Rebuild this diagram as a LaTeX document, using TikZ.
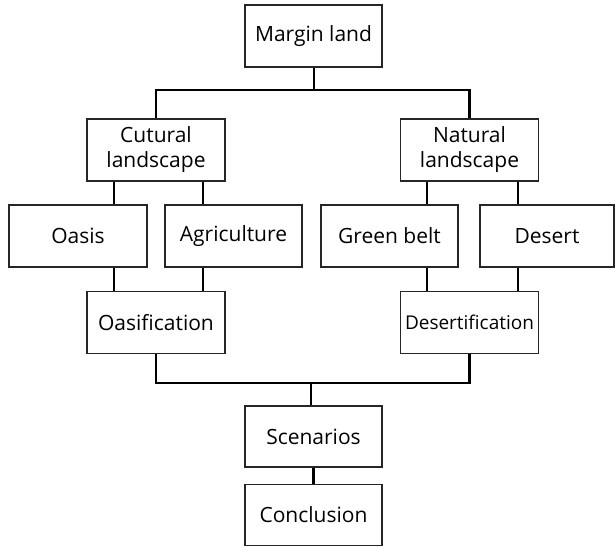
\documentclass[tikz,border=0pt]{standalone}
\usepackage{fontspec}
\setmainfont{Open Sans}
\begin{document}
\begin{tikzpicture}[x=1pt,y=-1pt,
  box/.style={draw=black!85,line width=1.3pt,minimum width=138pt,minimum height=62pt,inner sep=0pt,align=center,font=\fontsize{21}{25}\selectfont,text=black},
  link/.style={draw=black,line width=2.8pt}]
\useasboundingbox (0,0) rectangle (615,546);
\node[box,minimum width=137pt] (margin) at (313.5,36) {Margin land};
\node[box] (cult) at (156,150) {Cutural\\landscape};
\node[box] (nat) at (469.5,150) {Natural\\landscape};
\node[box] (oasis) at (78,236) {Oasis};
\node[box,minimum width=137pt] (agri) at (233.5,236) {Agriculture};
\node[box,minimum width=137pt] (green) at (389.5,236) {Green belt};
\node[box,minimum width=134pt] (desert) at (547,236) {Desert};
\node[box] (oasif) at (156,322.5) {Oasification};
\node[box,font=\fontsize{19}{22}\selectfont] (desertif) at (469.5,322.5) {Desertification};
\node[box,minimum width=137pt,minimum height=61pt] (scen) at (313.5,436.5) {Scenarios};
\node[box,minimum width=137pt,minimum height=61pt] (concl) at (313.5,515) {Conclusion};
\coordinate (j1) at (314,90);
\coordinate (j2) at (311,383);
\coordinate (a1) at (114,0);
\coordinate (a2) at (203,0);
\coordinate (b1) at (427,0);
\coordinate (b2) at (518,0);
\draw[link] (margin.south -| j1) -- (j1);
\draw[link] (cult.north) |- (j1) -| (nat.north);
\draw[link] (cult.south -| a1) -- (oasis.north -| a1);
\draw[link] (cult.south -| a2) -- (agri.north -| a2);
\draw[link] (nat.south -| b1) -- (green.north -| b1);
\draw[link] (nat.south -| b2) -- (desert.north -| b2);
\draw[link] (oasis.south -| a1) -- (oasif.north -| a1);
\draw[link] (agri.south -| a2) -- (oasif.north -| a2);
\draw[link] (green.south -| b1) -- (desertif.north -| b1);
\draw[link] (desert.south -| b2) -- (desertif.north -| b2);
\draw[link] (oasif.south) |- (j2) -| (desertif.south);
\draw[link] (j2) -- (scen.north -| j2);
\draw[link] (scen.south) -- (concl.north);
\end{tikzpicture}
\end{document}
